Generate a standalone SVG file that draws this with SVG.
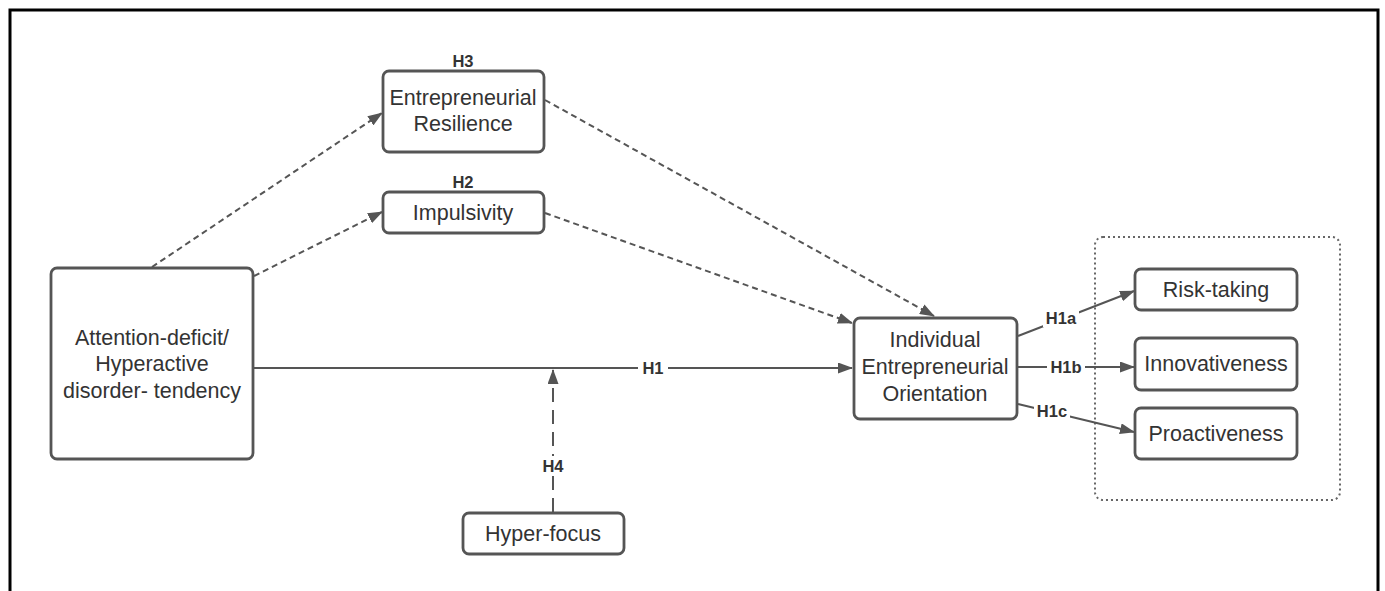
<svg xmlns="http://www.w3.org/2000/svg" width="1385" height="591" viewBox="0 0 1385 591">
<style>
.node rect{fill:#fff;stroke:#555;stroke-width:2.8}
.t{font-family:"Liberation Sans",Arial,sans-serif;font-size:21.5px;fill:#333;text-anchor:middle}
.lb{font-family:"Liberation Sans",Arial,sans-serif;font-size:16.5px;font-weight:bold;fill:#333;text-anchor:middle}
.c{fill:none;stroke:#555;stroke-width:2}
.d{stroke-dasharray:6 4}
.ld{stroke-dasharray:14 8}
</style>
<defs>
<marker id="ah" viewBox="0 0 15 11" refX="14" refY="5.5" markerWidth="15" markerHeight="11" markerUnits="userSpaceOnUse" orient="auto">
<path d="M0,0 L15,5.5 L0,11 Z" fill="#555"/>
</marker>
</defs>
<rect x="0" y="0" width="1385" height="591" fill="#fff"/>
<path d="M10,595 L10,10 L1378,10 L1378,595" fill="none" stroke="#000" stroke-width="3"/>
<rect x="1095" y="237" width="245" height="263" rx="8" fill="none" stroke="#666" stroke-width="2" stroke-dasharray="2 3"/>
<g id="connectors">
<path class="c" d="M253,368 L852,368" marker-end="url(#ah)"/>
<path class="c ld" d="M553,512 L553,370" marker-end="url(#ah)"/>
<path class="c d" d="M152,267 L382,113" marker-end="url(#ah)"/>
<path class="c d" d="M254,276 L382,212" marker-end="url(#ah)"/>
<path class="c d" d="M545,100 L934,316" marker-end="url(#ah)"/>
<path class="c d" d="M545,213 L852,323" marker-end="url(#ah)"/>
<path class="c" d="M1018,336 L1134,291" marker-end="url(#ah)"/>
<path class="c" d="M1018,367 L1134,367" marker-end="url(#ah)"/>
<path class="c" d="M1018,404 L1134,432" marker-end="url(#ah)"/>
<rect x="638" y="359" width="30" height="18" fill="#fff"/>
<text class="lb" x="653" y="374">H1</text>
<rect x="537" y="456" width="32" height="20" fill="#fff"/>
<text class="lb" x="553" y="472">H4</text>
<rect x="1043" y="309" width="36" height="18" fill="#fff"/>
<text class="lb" x="1061" y="324">H1a</text>
<rect x="1047" y="358" width="38" height="18" fill="#fff"/>
<text class="lb" x="1066" y="373">H1b</text>
<rect x="1034" y="402" width="36" height="18" fill="#fff"/>
<text class="lb" x="1052" y="417">H1c</text>
</g>
<g id="adhd" class="node">
<rect x="51" y="268" width="202" height="191" rx="6"/>
<text class="t" x="152" y="345">Attention-deficit/</text>
<text class="t" x="152" y="371">Hyperactive</text>
<text class="t" x="152" y="398">disorder- tendency</text>
</g>
<g id="resilience" class="node">
<text class="lb" x="463" y="67">H3</text>
<rect x="383" y="71" width="161" height="81" rx="6"/>
<text class="t" x="463" y="105">Entrepreneurial</text>
<text class="t" x="463" y="131">Resilience</text>
</g>
<g id="impulsivity" class="node">
<text class="lb" x="463" y="188">H2</text>
<rect x="383" y="192" width="161" height="41" rx="6"/>
<text class="t" x="463" y="220">Impulsivity</text>
</g>
<g id="ieo" class="node">
<rect x="854" y="318" width="163" height="101" rx="6"/>
<text class="t" x="935" y="347">Individual</text>
<text class="t" x="935" y="374">Entrepreneurial</text>
<text class="t" x="935" y="401">Orientation</text>
</g>
<g id="risk" class="node">
<rect x="1135" y="269" width="162" height="41" rx="6"/>
<text class="t" x="1216" y="297">Risk-taking</text>
</g>
<g id="innov" class="node">
<rect x="1135" y="338" width="162" height="52" rx="6"/>
<text class="t" x="1216" y="371">Innovativeness</text>
</g>
<g id="proact" class="node">
<rect x="1135" y="408" width="162" height="51" rx="6"/>
<text class="t" x="1216" y="441">Proactiveness</text>
</g>
<g id="hyperfocus" class="node">
<rect x="463" y="513" width="161" height="41" rx="6"/>
<text class="t" x="543" y="541">Hyper-focus</text>
</g>
</svg>
